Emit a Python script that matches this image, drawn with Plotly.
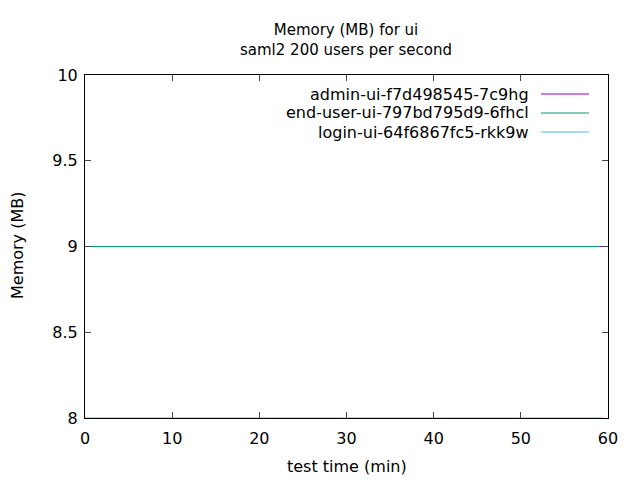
import plotly.graph_objects as go

# Data
admin_times = [0, 10, 20, 30, 40, 50, 60]
admin_mem = [9, 9, 9, 9, 9, 9, 9]
enduser_times = [0.5, 10, 20, 30, 40, 50, 59]
enduser_mem = [9, 9, 9, 9, 9, 9, 9]
login_times = [0, 10, 20, 30, 40, 50, 59.5]
login_mem = [8, 8, 8, 8, 8, 8, 8]

names = ["admin-ui-f7d498545-7c9hg", "end-user-ui-797bd795d9-6fhcl", "login-ui-64f6867fc5-rkk9w"]
colors = ["#9400d3", "#009e73", "#56b4e9"]

x_ticks = [0, 10, 20, 30, 40, 50, 60]
y_ticks = [8, 8.5, 9, 9.5, 10]
y_tick_text = ["8", "8.5", "9", "9.5", "10"]

FONT = "DejaVu Sans"
FS = 16

# page body has an 8px margin; work in page pixels and convert
OFF = 8
W, H = 640, 480
PL, PR, PT, PB = 85, 608, 75, 418  # plot area in page pixels
L = PL - OFF
T = PT - OFF
R = W - (PR - OFF)
B = H - (PB - OFF)
pw, ph = PR - PL, PB - PT

def px_to_paper_x(px):
    return (px - PL) / pw

def px_to_paper_y(py):
    return 1 - (py - PT) / ph

fig = go.Figure()
series = [(admin_times, admin_mem), (enduser_times, enduser_mem), (login_times, login_mem)]
for (xs, ys), name, col in zip(series, names, colors):
    fig.add_trace(go.Scatter(x=xs, y=ys, mode="lines", name=name,
                             line=dict(color=col, width=1), showlegend=False))

# Manual gnuplot-style legend (text right-aligned, sample line on the right)
row_y = [94, 113, 132]
for name, col, ry in zip(names, colors, row_y):
    fig.add_annotation(x=px_to_paper_x(531), y=px_to_paper_y(ry), xref="paper", yref="paper",
                       text=name, showarrow=False, xanchor="right", yanchor="middle",
                       font=dict(family=FONT, size=FS, color="black"))
    fig.add_shape(type="line", xref="paper", yref="paper",
                  x0=px_to_paper_x(541), x1=px_to_paper_x(589),
                  y0=px_to_paper_y(ry), y1=px_to_paper_y(ry),
                  line=dict(color=col, width=1))

# Axis titles as annotations at page-pixel positions
fig.add_annotation(x=px_to_paper_x(347), y=px_to_paper_y(466), xref="paper", yref="paper",
                   text="test time (min)", showarrow=False, xanchor="center", yanchor="middle",
                   font=dict(family=FONT, size=FS, color="black"))
fig.add_annotation(x=px_to_paper_x(18), y=px_to_paper_y(246), xref="paper", yref="paper",
                   text="Memory (MB)", showarrow=False, xanchor="center", yanchor="middle",
                   textangle=-90, font=dict(family=FONT, size=FS, color="black"))

fig.update_layout(
    width=W, height=H,
    margin=dict(l=L, r=R, t=T, b=B, autoexpand=False),
    paper_bgcolor="white", plot_bgcolor="white",
    font=dict(family=FONT, size=FS, color="black"),
    title=dict(text="Memory (MB) for ui<br>saml2 200 users per second",
               x=(346 - OFF) / W, xanchor="center",
               y=1 - (35 - OFF) / H, yanchor="middle", yref="container",
               font=dict(family=FONT, size=15)),
    xaxis=dict(range=[0, 60], tickvals=x_ticks, ticks="inside", ticklen=6,
               showline=True, linecolor="black", linewidth=1, mirror="allticks",
               showgrid=False, zeroline=False, ticklabelstandoff=6,
               tickfont=dict(family=FONT, size=FS)),
    yaxis=dict(range=[8, 10], tickvals=y_ticks, ticktext=y_tick_text,
               ticks="inside", ticklen=6,
               showline=True, linecolor="black", linewidth=1, mirror="allticks",
               showgrid=False, zeroline=False, ticklabelstandoff=3,
               tickfont=dict(family=FONT, size=FS)),
)

fig.write_html("out.html")
